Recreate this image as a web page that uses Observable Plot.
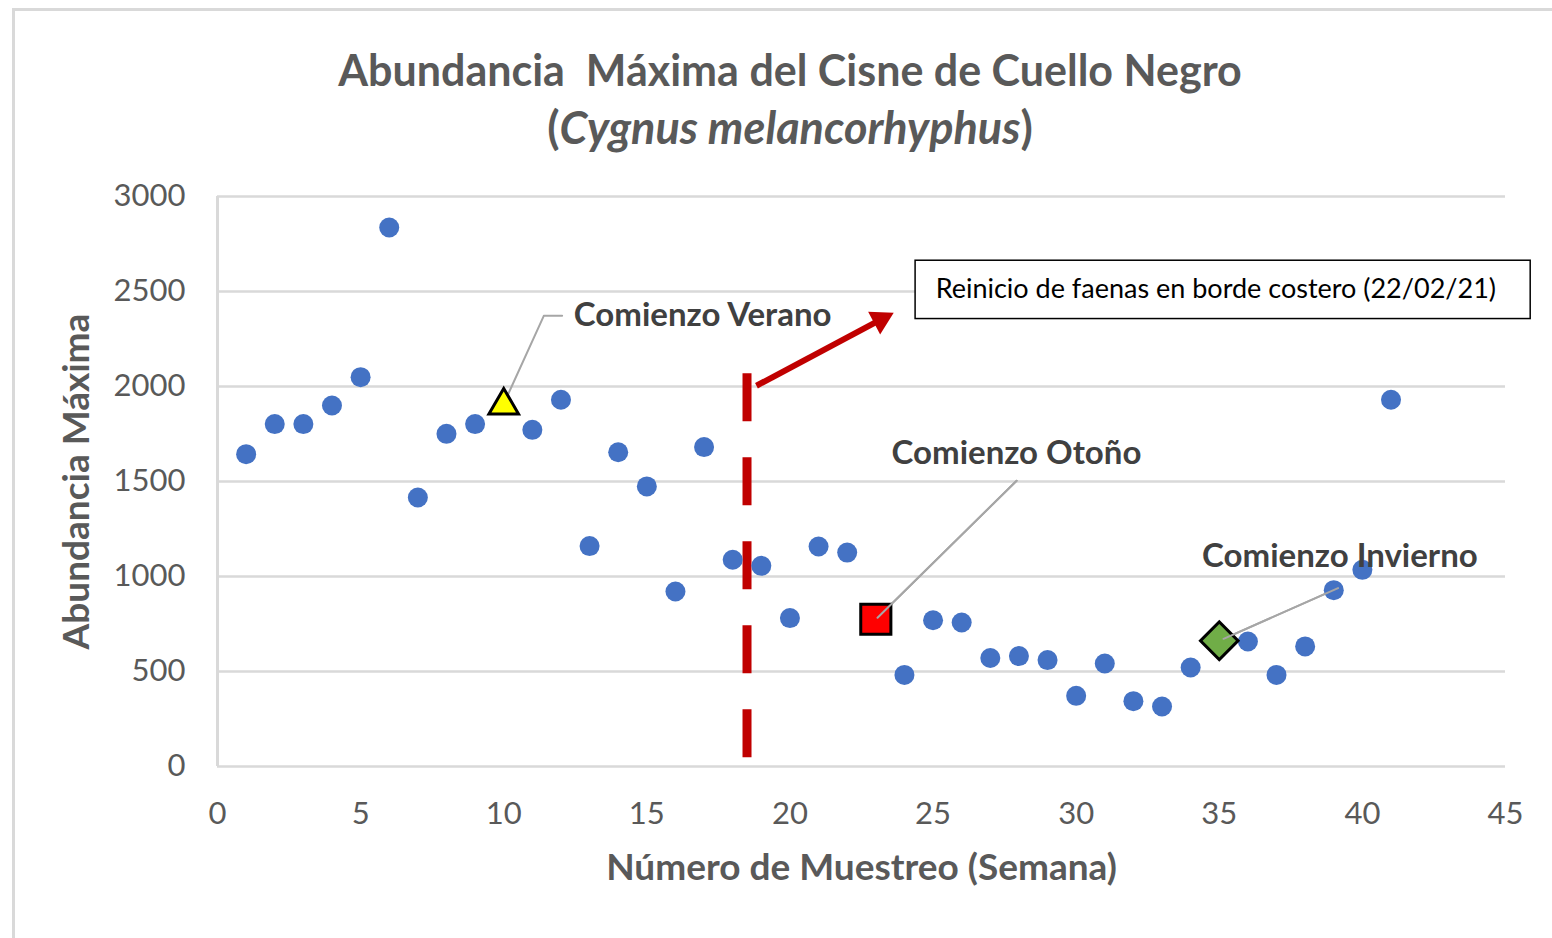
<!DOCTYPE html>
<html>
<head>
<meta charset="utf-8">
<script src="https://cdn.jsdelivr.net/npm/d3@7"></script>
<script src="https://cdn.jsdelivr.net/npm/@observablehq/plot@0.6"></script>
<style>
  html, body { margin: 0; padding: 0; background: #fff; overflow: hidden; }
  body { width: 1552px; height: 938px; position: relative; font-family: Lato, "Open Sans", sans-serif; }
  #frame { position: absolute; left: 12px; top: 8px; right: -10px; bottom: -10px;
           border-top: 3px solid #d9d9d9; border-left: 3px solid #d9d9d9; }
  #titlebox { position: relative; height: 170px; }
  .t { position: absolute; left: 28px; width: 1524px; text-align: center; color: #595959;
       font-weight: 700; line-height: 48px; white-space: pre; }
  #t1 { top: 46px; font-size: 43px; }
  #t2 { top: 103px; font-size: 45px; }
  #chart { position: relative; }
  svg { display: block; }
</style>
</head>
<body>
<div id="frame"></div>
<div id="titlebox">
  <div class="t" id="t1">Abundancia  Máxima del Cisne de Cuello Negro</div>
  <div class="t" id="t2">(<i>Cygnus melancorhyphus</i>)</div>
</div>
<div id="chart"></div>
<script>
// ---- Data ----
const semanas = [1,2,3,4,5,6,7,8,9,10,11,12,13,14,15,16,17,18,19,20,21,22,23,24,25,26,27,28,29,30,31,32,33,34,35,36,37,38,39,40,41];
const abundancia = [1644,1802,1802,1900,2049,2837,1416,1751,1802,1900,1772,1930,1160,1654,1474,921,1681,1088,1056,781,1158,1126,775,482,770,758,571,581,560,372,542,344,316,521,662,658,482,632,928,1035,1930];
const estaciones = ["Comienzo Verano", "Comienzo Otoño", "Comienzo Invierno"];
const semanaEstacion = [10, 23, 35];
const xTicks = [0,5,10,15,20,25,30,35,40,45];
const yTicks = [0,500,1000,1500,2000,2500,3000];
const semanaReinicio = 18.5;
const textoReinicio = "Reinicio de faenas en borde costero (22/02/21)";
const tituloX = "Número de Muestreo (Semana)";
const tituloY = "Abundancia Máxima";

// ---- Annotation placement (data units) ----
const etiquetaX = [12.45, 23.55, 34.4];
const etiquetaY = [2372, 1646, 1103];
const guias = [
  [[10.05, 1925], [11.4, 2372], [12.04, 2372]],
  [[23.06, 783], [27.92, 1504]],
  [[35.15, 672], [39.15, 939]]
];
const reinicioTope = 2067;
const flecha = {x1: 18.83, y1: 2004, x2: 23.17, y2: 2352};
const caja = {x1: 24.39, x2: 45.88, y1: 2355, y2: 2662, tx: 25.09, ty: 2509};

// ---- Tables built from arrays ----
const puntos = semanas.map((s, i) => ({semana: s, valor: abundancia[i]}))
  .filter(d => !semanaEstacion.includes(d.semana));
const marcas = semanaEstacion.map((s, i) => ({semana: s, valor: abundancia[semanas.indexOf(s)], nombre: estaciones[i]}));
const etiquetas = estaciones.map((n, i) => ({nombre: n, x: etiquetaX[i], y: etiquetaY[i]}));
const lineasGuia = guias.flatMap((g, k) => g.map(([x, y]) => ({k, x, y})));

const chart = Plot.plot({
  width: 1552,
  height: 768,
  marginLeft: 217,
  marginRight: 47,
  marginTop: 26,
  marginBottom: 172,
  style: {fontFamily: "Lato, 'Open Sans', sans-serif", background: "transparent", overflow: "visible"},
  x: {domain: [0, 45], label: null},
  y: {domain: [0, 3000], label: null},
  marks: [
    Plot.gridY(yTicks, {stroke: "#d9d9d9", strokeOpacity: 1, strokeWidth: 2.5}),
    Plot.ruleX([0], {stroke: "#d9d9d9", strokeWidth: 3}),
    Plot.axisY(yTicks, {tickSize: 0, tickPadding: 32, fontSize: 31, fill: "#595959", tickFormat: d => String(d)}),
    Plot.axisX(xTicks, {tickSize: 0, tickPadding: 35, fontSize: 31, fill: "#595959", tickFormat: d => String(d)}),
    Plot.text([tituloY], {frameAnchor: "left", dx: -140, rotate: -90, textAnchor: "middle", lineAnchor: "middle", fontSize: 37, fontWeight: 700, fill: "#595959"}),
    Plot.text([tituloX], {frameAnchor: "bottom", dy: 102, textAnchor: "middle", lineAnchor: "middle", fontSize: 37, fontWeight: 700, fill: "#595959"}),
    Plot.ruleX([semanaReinicio], {y1: reinicioTope, y2: 0, stroke: "#C00000", strokeWidth: 9, strokeDasharray: "48,36"}),
    Plot.link([flecha], {x1: "x1", y1: "y1", x2: "x2", y2: "y2", stroke: "#C00000", strokeWidth: 6}),
    Plot.dot([flecha], {x: "x2", y: "y2", symbol: "triangle", r: 9.5, rotate: 62, fill: "#C00000"}),
    Plot.rect([caja], {x1: "x1", x2: "x2", y1: "y1", y2: "y2", fill: "white", stroke: "black", strokeWidth: 1.5}),
    Plot.text([caja], {x: "tx", y: "ty", text: () => textoReinicio, textAnchor: "start", fontSize: 27, fill: "black"}),
    Plot.line(lineasGuia, {x: "x", y: "y", z: "k", stroke: "#a6a6a6", strokeWidth: 2}),
    Plot.dot(puntos, {x: "semana", y: "valor", r: 10, fill: "#4472C4"}),
    Plot.dot(marcas.slice(0, 1), {x: "semana", y: "valor", symbol: "triangle", r: 11, fill: "#FFFF00", stroke: "black", strokeWidth: 3}),
    Plot.dot(marcas.slice(1, 2), {x: "semana", y: "valor", symbol: "square", r: 17, fill: "#FF0000", stroke: "black", strokeWidth: 3}),
    Plot.dot(marcas.slice(2, 3), {x: "semana", y: "valor", symbol: "square", rotate: 45, r: 15, fill: "#70AD47", stroke: "black", strokeWidth: 3}),
    Plot.line(lineasGuia.filter(d => d.k !== 0), {x: "x", y: "y", z: "k", stroke: "#a6a6a6", strokeWidth: 2}),
    Plot.text(etiquetas, {x: "x", y: "y", text: "nombre", textAnchor: "start", fontSize: 33, fontWeight: 700, fill: "#404040"})
  ]
});
document.getElementById("chart").appendChild(chart);
</script>
</body>
</html>
